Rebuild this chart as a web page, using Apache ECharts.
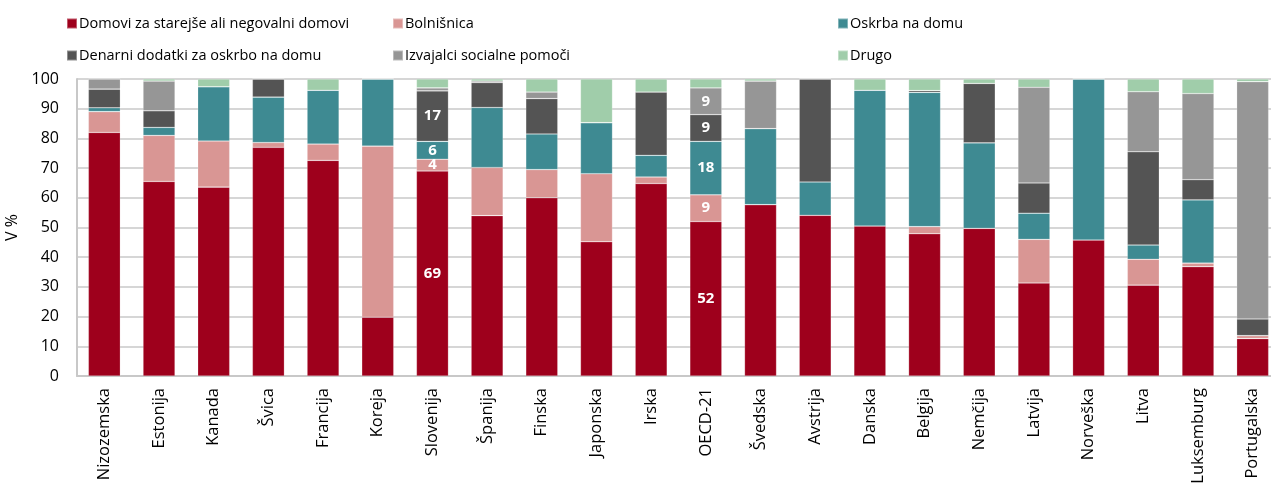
<!DOCTYPE html>
<html>
<head>
<meta charset="utf-8">
<script src="https://cdn.jsdelivr.net/npm/echarts@6/dist/echarts.min.js"></script>
<style>
  html, body { margin: 0; padding: 0; background: #fff; }
  #chart { width: 1271px; height: 486px; }
</style>
</head>
<body>
<div id="chart"></div>
<script>
// Countries, in display order
const categories = ['Nizozemska', 'Estonija', 'Kanada', 'Švica', 'Francija', 'Koreja', 'Slovenija', 'Španija', 'Finska', 'Japonska', 'Irska', 'OECD-21', 'Švedska', 'Avstrija', 'Danska', 'Belgija', 'Nemčija', 'Latvija', 'Norveška', 'Litva', 'Luksemburg', 'Portugalska'];

// Share of spending by provider (%)
const domovi    = [82.0, 65.5, 63.6, 77.0, 72.6, 19.8, 69, 54.0, 60.0, 45.2, 64.8, 52, 57.7, 54.1, 50.5, 47.9, 49.7, 31.3, 45.8, 30.6, 36.8, 12.6];
const bolnisnica = [7.0, 15.5, 15.5, 1.6, 5.5, 57.6, 4, 16.2, 9.5, 22.9, 2.2, 9, 0, 0, 0, 2.4, 0, 14.7, 0, 8.7, 1.2, 1.0];
const oskrba    = [1.3, 2.7, 18.3, 15.3, 18.1, 22.6, 6, 20.2, 12.0, 17.2, 7.3, 18, 25.6, 11.2, 45.7, 45.2, 28.8, 8.8, 54.2, 4.8, 21.3, 0];
const denarni   = [6.3, 5.6, 0, 6.1, 0, 0, 17, 8.4, 11.9, 0, 21.3, 9, 0, 34.7, 0, 0.6, 20.0, 10.2, 0, 31.4, 6.8, 5.6];
const izvajalci = [3.4, 10.0, 0, 0, 0, 0, 1, 0.5, 2.2, 0, 0, 9, 16.0, 0, 0, 0, 0, 32.2, 0, 20.2, 29.0, 79.9];
const drugo     = [0, 0.7, 2.6, 0, 3.8, 0, 3, 0.7, 4.4, 14.7, 4.4, 3, 0.7, 0, 3.8, 3.9, 1.5, 2.8, 0, 4.3, 4.9, 0.9];

// Segments that carry a value label: category -> series indices
const labelled = { 'Slovenija': [0, 1, 2, 3], 'OECD-21': [0, 1, 2, 3, 4] };

const FONT = '"Open Sans", sans-serif';

const seriesDefs = [
  { name: 'Domovi za starejše ali negovalni domovi', data: domovi,     color: '#9E001C' },
  { name: 'Bolnišnica',                              data: bolnisnica, color: '#D99694' },
  { name: 'Oskrba na domu',                          data: oskrba,     color: '#3E8A92' },
  { name: 'Denarni dodatki za oskrbo na domu',       data: denarni,    color: '#545454' },
  { name: 'Izvajalci socialne pomoči',               data: izvajalci,  color: '#969696' },
  { name: 'Drugo',                                   data: drugo,      color: '#A0CDAA' }
];

const series = seriesDefs.map((s, si) => ({
  name: s.name,
  type: 'bar',
  stack: 'total',
  barWidth: 32,
  itemStyle: { color: s.color, borderColor: 'rgba(255,255,255,0.35)', borderWidth: 0.6 },
  emphasis: { disabled: true },
  data: s.data.map((v, i) => {
    const show = (labelled[categories[i]] || []).includes(si);
    return {
      value: v,
      label: {
        show: show,
        position: 'inside',
        formatter: (p) => String(Math.round(p.value)),
        color: '#fff',
        fontWeight: 'bold',
        fontSize: 15,
        fontFamily: FONT
      }
    };
  })
}));

// Legend: three columns, two rows
const legendCols = [66, 392, 837];
const legendRows = [16, 48];
const legends = seriesDefs.map((s, i) => ({
  left: legendCols[i % 3],
  top: legendRows[Math.floor(i / 3)],
  icon: 'rect',
  itemWidth: 10,
  itemHeight: 10,
  itemGap: 0,
  padding: 0,
  selectedMode: false,
  textStyle: { fontSize: 14.5, color: '#000', fontFamily: FONT, padding: [0, 0, 0, -3] },
  data: [s.name]
}));

const option = {
  animation: false,
  backgroundColor: '#fff',
  legend: legends,
  grid: { left: 77, right: -9, top: 79, bottom: 110, containLabel: false, outerBoundsMode: 'none' },
  xAxis: {
    type: 'category',
    data: categories,
    axisLine: { lineStyle: { color: '#C8C8C8', width: 2 } },
    axisTick: { show: false },
    axisLabel: {
      rotate: 90,
      interval: 0,
      margin: 12,
      fontSize: 16.5,
      color: '#000',
      fontFamily: FONT
    }
  },
  yAxis: {
    type: 'value',
    min: 0,
    max: 100,
    interval: 10,
    name: 'V %',
    nameLocation: 'middle',
    nameGap: 44,
    nameTextStyle: { fontSize: 16, color: '#000', fontFamily: FONT },
    axisLine: { show: true, lineStyle: { color: '#C8C8C8', width: 2 } },
    axisTick: { show: false },
    axisLabel: { fontSize: 16, color: '#000', margin: 18, fontFamily: FONT },
    splitLine: { lineStyle: { color: '#C8C8C8', width: 1.5 } }
  },
  series: series
};

const chart = echarts.init(document.getElementById('chart'), null, { renderer: 'canvas' });
chart.setOption(option);
</script>
</body>
</html>
